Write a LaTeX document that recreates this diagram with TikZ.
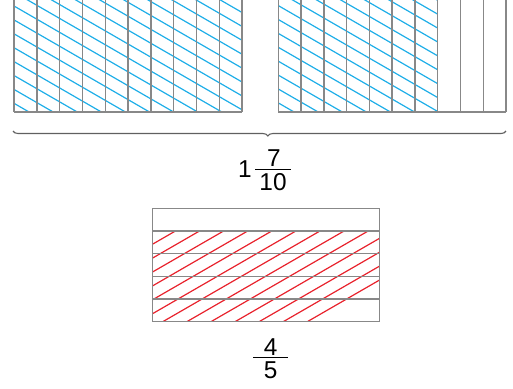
\documentclass[tikz,border=0pt]{standalone}
\usepackage{fontspec}
\setmainfont{Liberation Sans}
\usetikzlibrary{decorations.pathreplacing}
\definecolor{hblue}{RGB}{30,174,232}
\definecolor{hred}{RGB}{232,34,44}
\definecolor{gridc}{RGB}{136,136,136}
\definecolor{bracec}{RGB}{96,96,96}
\begin{document}
\begin{tikzpicture}[x=0.5pt,y=-0.5pt,
  gridline/.style={draw=gridc,line width=0.7pt},
  bluehatch/.style={draw=hblue,line width=0.6pt},
  redhatch/.style={draw=hred,line width=0.6pt},
  numtext/.style={inner sep=0pt,font=\fontsize{12.2}{14}\selectfont},
  fracbar/.style={draw=black,line width=0.65pt},
  bracestyle/.style={draw=bracec,line width=0.55pt,decorate,decoration={brace,amplitude=2.5pt,aspect=0.483}}]
\useasboundingbox (0,0) rectangle (513,388);
\clip (0,0) rectangle (513,388);
% ---- blue hatching, left bar (all 10 columns)
\begin{scope}
  \clip (14,-20) rectangle (242,112);
  \foreach \k in {-25,...,12} \draw[bluehatch] (0,{-2.08+13.9*\k}) -- (513,{-2.08+13.9*\k+296});
\end{scope}
% ---- blue hatching, right bar (first 7 columns)
\begin{scope}
  \clip (278.3,-20) rectangle (437.7,112);
  \foreach \k in {-25,...,12} \draw[bluehatch] (0,{-2.08+13.9*\k}) -- (513,{-2.08+13.9*\k+296});
\end{scope}
% ---- red hatching, bottom bar (lower 4 rows)
\begin{scope}
  \clip (152.3,230.7) rectangle (379.3,321.7);
  \foreach \k in {-15,...,12} \draw[redhatch] (0,{332.2+13.9*\k}) -- (513,{332.2+13.9*\k-296});
\end{scope}
% ---- grids
\foreach \i in {0,...,10} \draw[gridline] ({14+22.8*\i},-20) -- ({14+22.8*\i},112);
\draw[gridline] (14,112) -- (242,112);
\foreach \i in {0,...,10} \draw[gridline] ({278.3+22.77*\i},-20) -- ({278.3+22.77*\i},112);
\draw[gridline] (278.3,112) -- (506,112);
\draw[gridline] (152.3,208.3) rectangle (379.3,321.7);
\foreach \j in {1,...,4} \draw[gridline] (152.3,{208.3+22.68*\j}) -- (379.3,{208.3+22.68*\j});
% ---- brace
\coordinate (braceR) at (506,131);
\coordinate (braceL) at (13,131);
\draw[bracestyle] (braceR) -- (braceL);
% ---- 1 7/10
\node[numtext] (one) at (245,169) {1};
\node[numtext] (seven) at (274,157.7) {7};
\node[numtext] (ten) at (273,181.7) {10};
\coordinate (barAL) at (255,169.3);
\coordinate (barAR) at (290.7,169.3);
\draw[fracbar] (barAL) -- (barAR);
% ---- 4/5
\node[numtext] (four) at (270.7,346.7) {4};
\node[numtext] (five) at (270.7,370) {5};
\coordinate (barBL) at (253.3,357.3);
\coordinate (barBR) at (288.3,357.3);
\draw[fracbar] (barBL) -- (barBR);
\end{tikzpicture}
\end{document}
